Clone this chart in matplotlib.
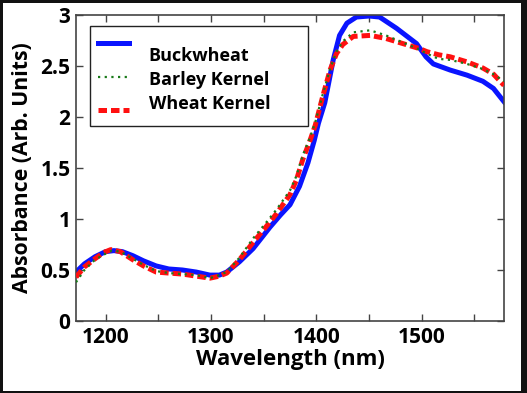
import matplotlib
matplotlib.use("Agg")
import matplotlib.pyplot as plt
from matplotlib.patches import Rectangle
from matplotlib.legend_handler import HandlerLine2D

plt.rcParams['font.family'] = ['Open Sans', 'DejaVu Sans']
plt.rcParams['font.weight'] = 'bold'

# Data
buck_x = [1172, 1180, 1190, 1200, 1208, 1216, 1226, 1236, 1248, 1260, 1273, 1286, 1299, 1308, 1315, 1327,
          1340, 1356, 1366, 1375, 1384, 1392, 1398, 1402, 1408, 1416, 1422, 1429, 1438, 1450, 1460,
          1476, 1495, 1504, 1511, 1527, 1543, 1558, 1568, 1578]
buck_y = [0.48, 0.56, 0.63, 0.68, 0.69, 0.68, 0.64, 0.59, 0.54, 0.51, 0.50, 0.48, 0.45, 0.45, 0.48, 0.58,
          0.71, 0.92, 1.04, 1.14, 1.32, 1.55, 1.77, 1.94, 2.14, 2.56, 2.80, 2.92, 2.98, 2.99, 2.98,
          2.87, 2.72, 2.59, 2.52, 2.46, 2.41, 2.35, 2.28, 2.15]

barley_x = [1172, 1180, 1190, 1200, 1206, 1214, 1226, 1236, 1248, 1260, 1273, 1286, 1299, 1308, 1315, 1327,
            1340, 1352, 1362, 1375, 1381, 1387, 1394, 1399, 1406, 1413, 1419, 1425, 1435, 1451, 1466,
            1482, 1498, 1505, 1516, 1527, 1543, 1558, 1568, 1578]
barley_y = [0.38, 0.50, 0.60, 0.66, 0.69, 0.68, 0.61, 0.55, 0.49, 0.47, 0.46, 0.45, 0.42, 0.45, 0.48, 0.62,
            0.81, 0.96, 1.09, 1.28, 1.42, 1.62, 1.80, 1.95, 2.22, 2.47, 2.64, 2.74, 2.83, 2.85, 2.80,
            2.73, 2.66, 2.62, 2.57, 2.56, 2.52, 2.47, 2.42, 2.35]

wheat_x = [1172, 1180, 1190, 1198, 1205, 1214, 1226, 1236, 1248, 1260, 1273, 1286, 1299, 1308, 1315, 1327,
           1340, 1352, 1362, 1375, 1381, 1387, 1394, 1399, 1406, 1413, 1419, 1425, 1435, 1451, 1466,
           1482, 1498, 1505, 1516, 1527, 1543, 1558, 1568, 1578]
wheat_y = [0.43, 0.53, 0.61, 0.67, 0.70, 0.68, 0.60, 0.54, 0.48, 0.47, 0.46, 0.44, 0.42, 0.44, 0.47, 0.60,
           0.77, 0.92, 1.05, 1.24, 1.38, 1.58, 1.77, 1.92, 2.20, 2.46, 2.62, 2.71, 2.79, 2.80, 2.77,
           2.72, 2.67, 2.64, 2.61, 2.59, 2.54, 2.48, 2.42, 2.31]

labels = ['Buckwheat', 'Barley Kernel', 'Wheat Kernel']
x_ticks = [1200, 1300, 1400, 1500]
x_minor = [1250, 1350, 1450, 1550]
y_ticks = [0, 0.5, 1, 1.5, 2, 2.5, 3]
y_ticklabels = ['0', '0.5', '1', '1.5', '2', '2.5', '3']


class ShiftedHandler(HandlerLine2D):
    def __init__(self, shift_pt=0.0, **kw):
        super().__init__(**kw)
        self.shift_pt = shift_pt

    def create_artists(self, legend, orig_handle, xdescent, ydescent, width, height, fontsize, trans):
        return super().create_artists(legend, orig_handle, xdescent, ydescent - 2 * self.shift_pt,
                                      width, height, fontsize, trans)


W, H = 527, 393
fig = plt.figure(figsize=(W / 100, H / 100), dpi=100, facecolor='#111111')
fig.patches.append(Rectangle((3 / W, 2 / H), (521 - 3) / W, (390 - 2) / H,
                             transform=fig.transFigure, facecolor='white', edgecolor='none', zorder=-10))
ax = fig.add_axes([76 / W, 1 - 321 / H, (504 - 76) / W, (321 - 15) / H])

l1, = ax.plot(buck_x, buck_y, color='#0a14ff', lw=3.6, label=labels[0], zorder=2)
l2, = ax.plot(barley_x, barley_y, color='#1a7a1a', lw=1.6, ls=(0, (1, 2.0)), label=labels[1], zorder=4)
l3, = ax.plot(wheat_x, wheat_y, color='#ff1010', lw=3.6, ls=(0, (1.7, 0.8)), label=labels[2], zorder=3)

ax.set_xlim(1172, 1578)
ax.set_ylim(0, 3)
ax.set_xticks(x_ticks)
ax.set_xticks(x_minor, minor=True)
ax.set_yticks(y_ticks)
ax.set_yticklabels(y_ticklabels)
ax.tick_params(which='both', direction='in', top=True, right=True, labelsize=15,
               length=5, width=1, color='#444444', pad=4)
for lab in ax.get_xticklabels() + ax.get_yticklabels():
    lab.set_fontweight('bold')
for s in ax.spines.values():
    s.set_color('#444444')
    s.set_linewidth(1.2)

ax.set_xlabel('Wavelength (nm)', fontsize=16, fontweight='bold', labelpad=1)
ax.set_ylabel('Absorbance (Arb. Units)', fontsize=15.3, fontweight='bold', labelpad=5)

# legend frame
ax.add_patch(Rectangle(((90 - 76) / 428, (321 - 126) / 306), (308 - 90) / 428, (126 - 26) / 306,
                       transform=ax.transAxes, facecolor='white', edgecolor='#222222', lw=1.0, zorder=5))
leg = ax.legend(handles=[l1, l2, l3], loc='upper left', bbox_to_anchor=((98 - 76) / 428, (321 - 47) / 306),
                fontsize=13, frameon=False, handlelength=1.7, handletextpad=1.1,
                labelspacing=0.33, borderpad=0, borderaxespad=0,
                handler_map={l1: ShiftedHandler(8.5), l2: ShiftedHandler(1.5), l3: ShiftedHandler(-5.0)})
leg.set_zorder(6)
for t in leg.get_texts():
    t.set_fontweight('bold')

fig.savefig('out.png', dpi=100, facecolor=fig.get_facecolor())
